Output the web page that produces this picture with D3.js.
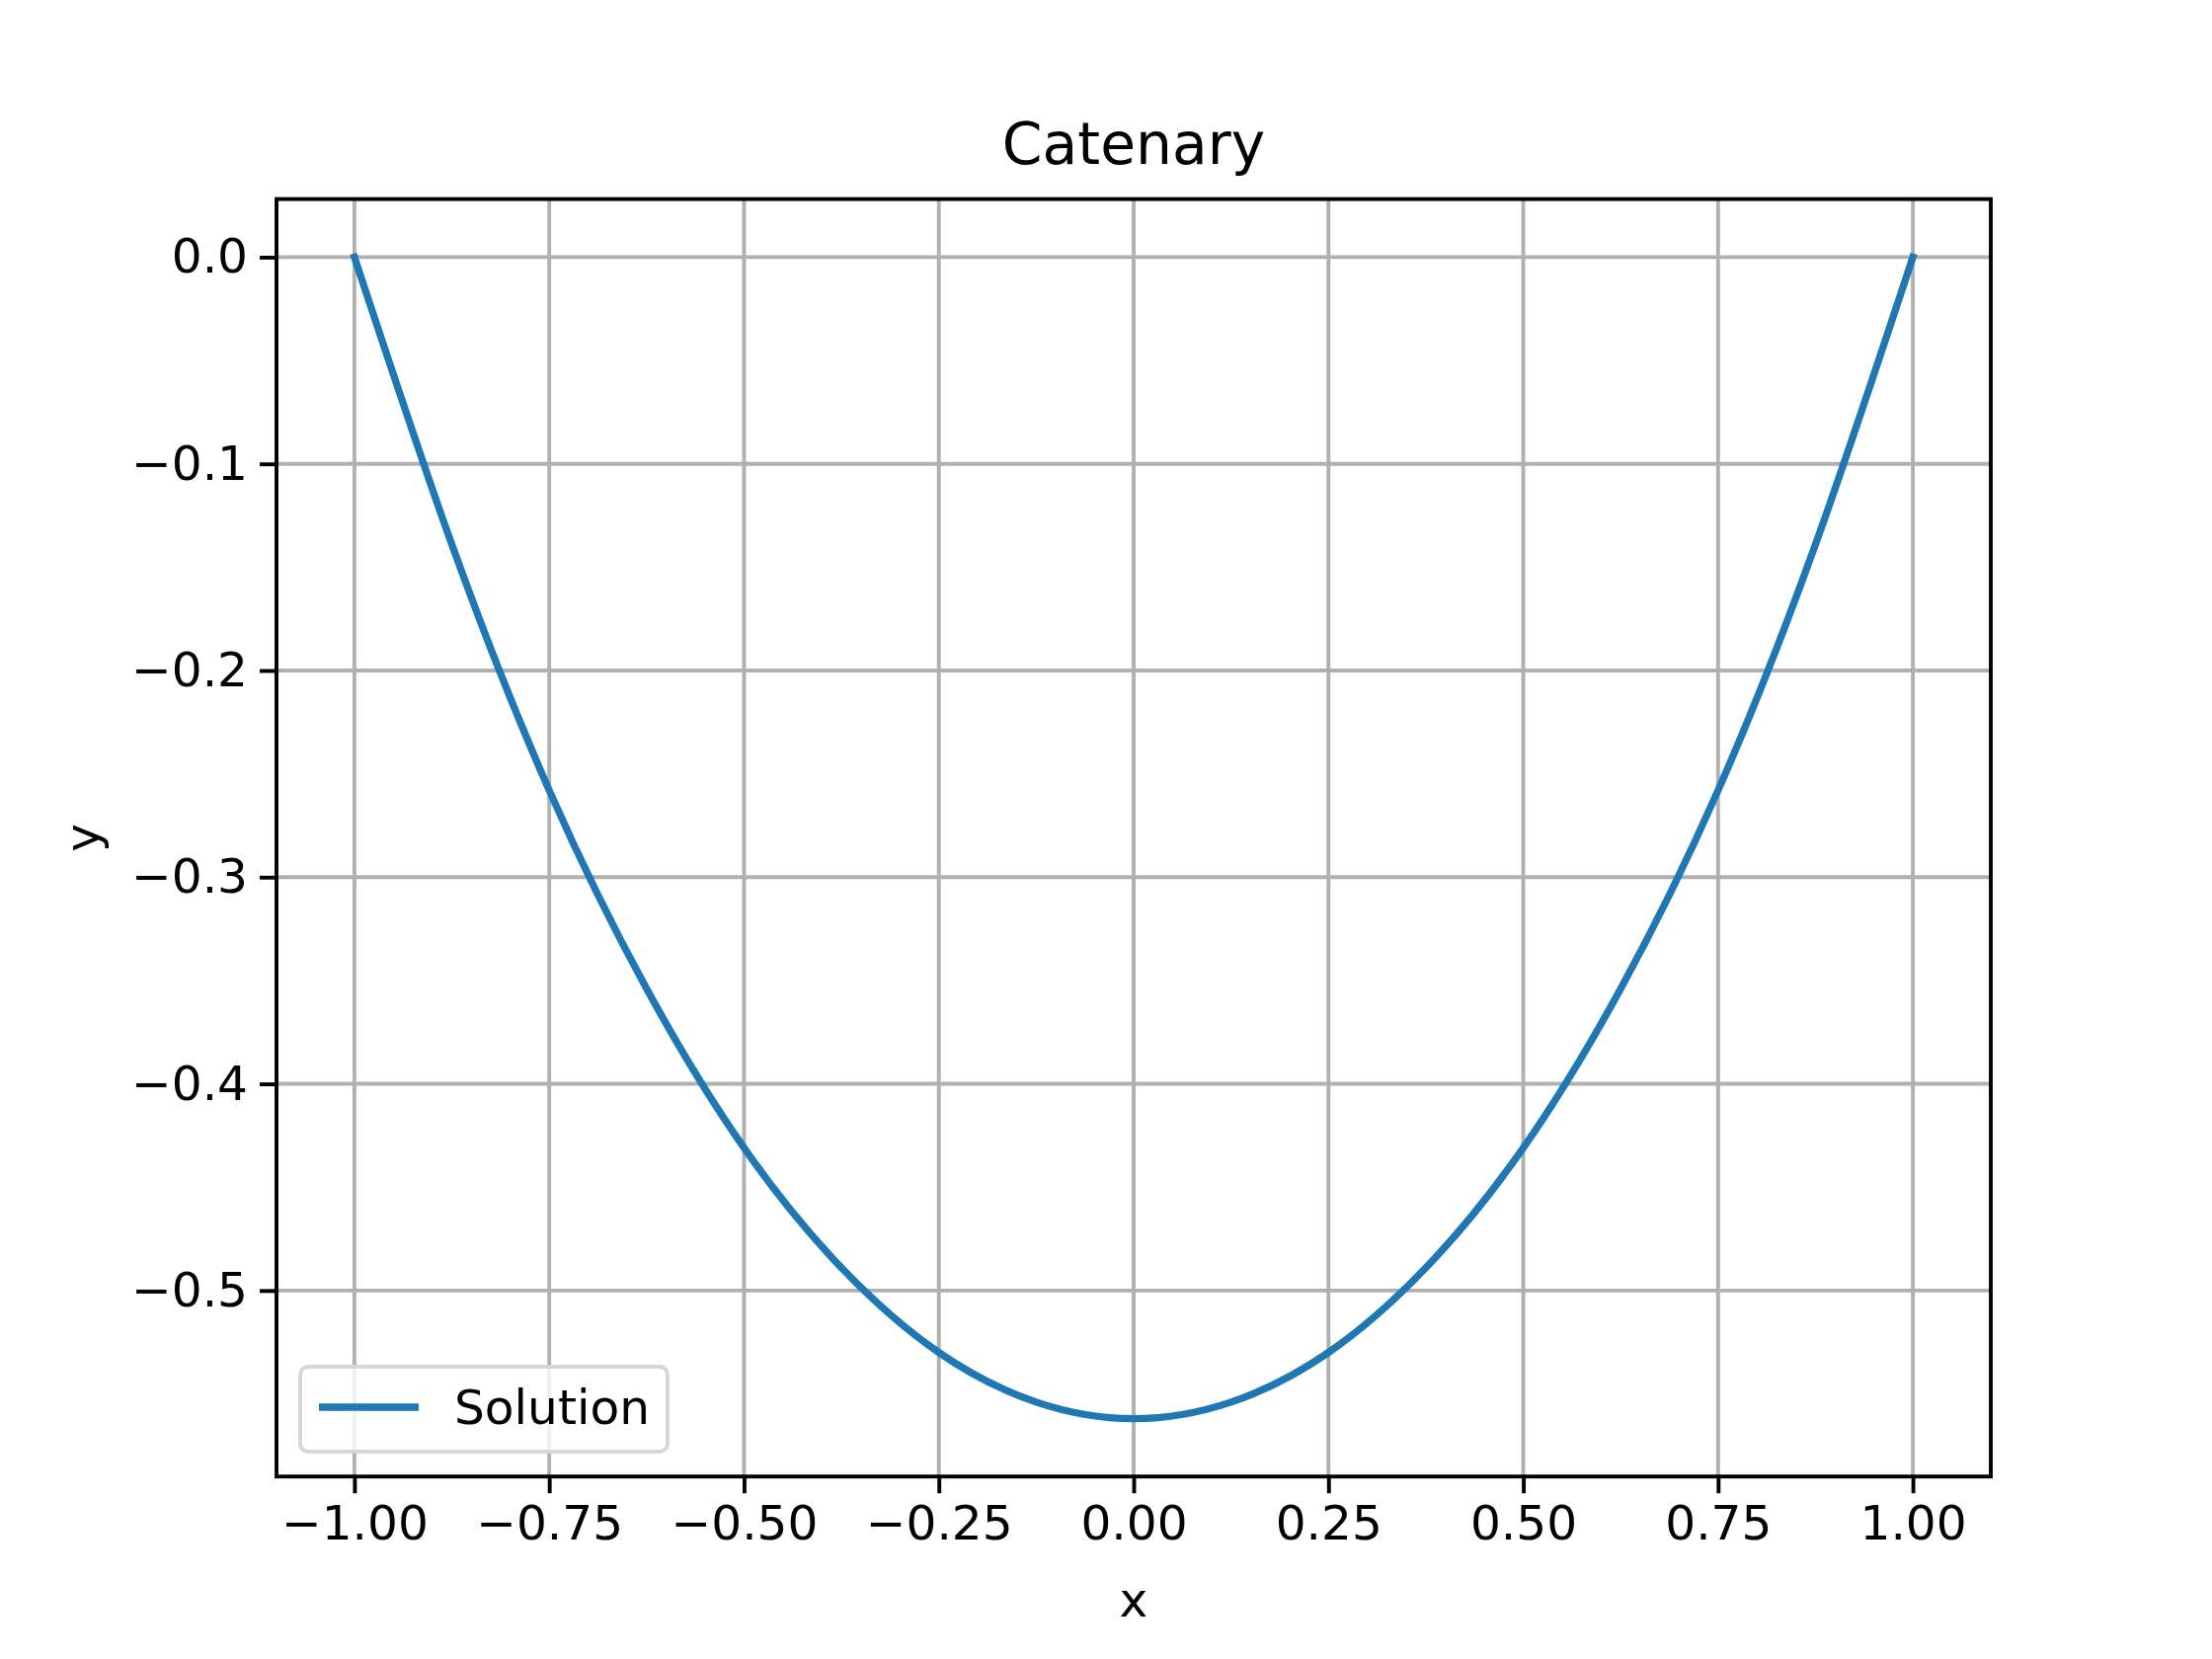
<!DOCTYPE html>
<html><head><meta charset="utf-8">
<script src="https://cdn.jsdelivr.net/npm/d3@7"></script>
<style>body{margin:0;background:#fff}text{font-family:"DejaVu Sans",sans-serif}</style>
</head><body>
<script>
var W = 2240, H = 1680;
var xs = [-1, -0.875, -0.75, -0.625, -0.5, -0.375, -0.25, -0.125, 0, 0.125, 0.25, 0.375, 0.5, 0.625, 0.75, 0.875, 1];
var ys = [0, -0.139, -0.258, -0.354, -0.431, -0.489, -0.530, -0.554, -0.562, -0.554, -0.530, -0.489, -0.431, -0.354, -0.258, -0.139, 0];
var xTicks = [-1, -0.75, -0.5, -0.25, 0, 0.25, 0.5, 0.75, 1];
var yTicks = [0, -0.1, -0.2, -0.3, -0.4, -0.5];

var L = 280, R = 2016, T = 201.6, B = 1495.2;
var svg = d3.select('body').append('svg').attr('width', W).attr('height', H);
var x = d3.scaleLinear().domain([-1.1, 1.1]).range([L, R]);
var y = d3.scaleLinear().domain([-0.590, 0.0281]).range([B, T]);
var minus = s => s.replace('-', '\u2212');

// grid
svg.append('g').selectAll('line').data(xTicks).join('line')
  .attr('x1', d => x(d)).attr('x2', d => x(d)).attr('y1', T).attr('y2', B)
  .attr('stroke', '#b0b0b0').attr('stroke-width', 3.9);
svg.append('g').selectAll('line').data(yTicks).join('line')
  .attr('y1', d => y(d)).attr('y2', d => y(d)).attr('x1', L).attr('x2', R)
  .attr('stroke', '#b0b0b0').attr('stroke-width', 3.9);

// curve
var pts = xs.map((v, i) => [v, ys[i]]);
svg.append('path').datum(pts)
  .attr('d', d3.line().x(d => x(d[0])).y(d => y(d[1])).curve(d3.curveNatural))
  .attr('fill', 'none').attr('stroke', '#1f77b4').attr('stroke-width', 7.3)
  .attr('stroke-linecap', 'square');

// axes
var xAxis = d3.axisBottom(x).tickValues(xTicks).tickSize(17).tickPadding(12)
  .tickFormat(d => minus(d3.format('.2f')(d)));
var yAxis = d3.axisLeft(y).tickValues(yTicks).tickSize(17).tickPadding(12)
  .tickFormat(d => minus(d3.format('.1f')(d)));
var gx = svg.append('g').attr('transform', 'translate(0,' + B + ')').call(xAxis);
var gy = svg.append('g').attr('transform', 'translate(' + L + ',0)').call(yAxis);
[gx, gy].forEach(g => {
  g.select('.domain').remove();
  g.selectAll('line').attr('stroke', '#000').attr('stroke-width', 3.9);
  g.selectAll('text').attr('font-size', 48.6).attr('fill', '#000')
    .attr('font-family', '"DejaVu Sans", sans-serif');
});
svg.append('rect').attr('x', L).attr('y', T).attr('width', R - L).attr('height', B - T)
  .attr('fill', 'none').attr('stroke', '#000').attr('stroke-width', 3.9);

// labels
svg.append('text').attr('x', (L + R) / 2).attr('y', 166).attr('text-anchor', 'middle')
  .attr('font-size', 58.3).text('Catenary');
svg.append('text').attr('x', (L + R) / 2).attr('y', 1637).attr('text-anchor', 'middle')
  .attr('font-size', 48.6).text('x');
svg.append('text').attr('transform', 'translate(100,' + (T + B) / 2 + ') rotate(-90)')
  .attr('text-anchor', 'middle').attr('font-size', 48.6).text('y');

// legend
var lg = svg.append('g');
lg.append('rect').attr('x', 304).attr('y', 1384).attr('width', 372).attr('height', 86).attr('rx', 8)
  .attr('fill', '#fff').attr('fill-opacity', 0.8).attr('stroke', '#d6d6d6').attr('stroke-width', 3.9);
lg.append('line').attr('x1', 323).attr('x2', 424).attr('y1', 1425).attr('y2', 1425)
  .attr('stroke', '#1f77b4').attr('stroke-width', 7.3);
lg.append('text').attr('x', 460).attr('y', 1442).attr('font-size', 48.6).text('Solution');
</script>
</body></html>
